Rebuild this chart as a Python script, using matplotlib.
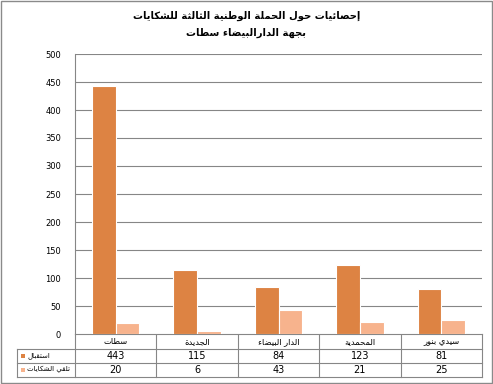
import matplotlib
matplotlib.use("Agg")
import matplotlib.pyplot as plt
from matplotlib.transforms import blended_transform_factory
from matplotlib.patches import Rectangle

plt.rcParams['font.family'] = ['DejaVu Sans']

# ---------------- data ----------------
categories = ["سطات", "الجديدة", "الدار البيضاء", "المحمدية", "سيدي بنور"]
series_names = ["استقبال", "تلقي الشكايات"]
reception = [443, 115, 84, 123, 81]
complaints = [20, 6, 43, 21, 25]
title_lines = ["إحصائيات حول الحملة الوطنية الثالثة للشكايات", "بجهة الدارالبيضاء سطات"]
yticks = [0, 50, 100, 150, 200, 250, 300, 350, 400, 450, 500]

colors = ["#DD8343", "#F7B38D"]

# ---------------- simple Arabic shaping (presentation forms + visual order) ----------------
_DUAL = {'ئ': 0xFE89, 'ب': 0xFE8F, 'ت': 0xFE95, 'ث': 0xFE99, 'ج': 0xFE9D, 'ح': 0xFEA1,
         'خ': 0xFEA5, 'س': 0xFEB1, 'ش': 0xFEB5, 'ص': 0xFEB9, 'ض': 0xFEBD, 'ط': 0xFEC1,
         'ظ': 0xFEC5, 'ع': 0xFEC9, 'غ': 0xFECD, 'ف': 0xFED1, 'ق': 0xFED5, 'ك': 0xFED9,
         'ل': 0xFEDD, 'م': 0xFEE1, 'ن': 0xFEE5, 'ه': 0xFEE9, 'ي': 0xFEF1}
_RIGHT = {'آ': 0xFE81, 'أ': 0xFE83, 'ؤ': 0xFE85, 'إ': 0xFE87, 'ا': 0xFE8D, 'ة': 0xFE93,
          'د': 0xFEA9, 'ذ': 0xFEAB, 'ر': 0xFEAD, 'ز': 0xFEAF, 'و': 0xFEED, 'ى': 0xFEEF}
_NONE = {'ء': 0xFE80}
_LAMALEF = {'آ': 0xFEF5, 'أ': 0xFEF7, 'إ': 0xFEF9, 'ا': 0xFEFB}


def _jtype(c):
    if c in _DUAL:
        return 4
    if c in _RIGHT:
        return 2
    return 0


def shape(text):
    units = []
    i = 0
    while i < len(text):
        c = text[i]
        if c == 'ل' and i + 1 < len(text) and text[i + 1] in _LAMALEF:
            units.append(('LA', _LAMALEF[text[i + 1]]))
            i += 2
        else:
            units.append(('C', c))
            i += 1

    def t(u):
        if u[0] == 'LA':
            return 2
        return _jtype(u[1])

    out = []
    for k, u in enumerate(units):
        tp = t(u)
        prev_j = k > 0 and t(units[k - 1]) == 4 and tp in (2, 4)
        next_j = tp == 4 and k + 1 < len(units) and t(units[k + 1]) in (2, 4)
        if u[0] == 'LA':
            out.append(chr(u[1] + (1 if prev_j else 0)))
            continue
        c = u[1]
        if c in _DUAL:
            base = _DUAL[c]
            off = 3 if (prev_j and next_j) else 1 if prev_j else 2 if next_j else 0
            out.append(chr(base + off))
        elif c in _RIGHT:
            out.append(chr(_RIGHT[c] + (1 if prev_j else 0)))
        elif c in _NONE:
            out.append(chr(_NONE[c]))
        else:
            out.append(c)
    return ''.join(out)[::-1]


# ---------------- figure ----------------
W, H = 493, 384
fig = plt.figure(figsize=(W / 100, H / 100), dpi=100)

L, R, T, B = 75, 482, 54, 334
ax = fig.add_axes([L / W, (H - B) / H, (R - L) / W, (B - T) / H])

x = list(range(len(categories)))
bw = 0.29
ax.bar([v - bw / 2 for v in x], reception, width=bw, color=colors[0],
       edgecolor="white", linewidth=0.8, zorder=3)
ax.bar([v + bw / 2 for v in x], complaints, width=bw, color=colors[1],
       edgecolor="white", linewidth=0.8, zorder=3)

ax.set_xlim(-0.5, len(categories) - 0.5)
ax.set_ylim(0, 500)
ax.set_yticks(yticks)
ax.set_yticklabels([str(v) for v in yticks], fontsize=6)
ax.tick_params(axis='y', length=0, pad=10)
ax.set_xticks([])
ax.grid(axis='y', color="#868686", linewidth=0.8, zorder=0)
for s in ["top", "right", "bottom"]:
    ax.spines[s].set_visible(False)
ax.spines["left"].set_color("#868686")
ax.spines["left"].set_linewidth(0.8)

# title
fig.text(0.5, 1 - 16 / H, shape(title_lines[0]), ha="center", va="center",
         fontsize=7.2, fontweight="bold")
fig.text(0.5, 1 - 33 / H, shape(title_lines[1]), ha="center", va="center",
         fontsize=7.2, fontweight="bold")

# overlay in pixel coordinates for the frames
ov = fig.add_axes([0, 0, 1, 1], zorder=-1)
ov.set_xlim(0, W)
ov.set_ylim(H, 0)
ov.axis("off")
ov.patch.set_alpha(0)

gc = "#868686"
lw = 0.8
rows = [334, 348.7, 362.7, 377]
col_edges = [L + (R - L) * k / len(categories) for k in range(len(categories) + 1)]
leg_left = 17
ov.plot([L, R], [rows[0], rows[0]], color=gc, lw=lw)
for yy in rows[1:]:
    ov.plot([leg_left, R], [yy, yy], color=gc, lw=lw)
for xx in col_edges:
    ov.plot([xx, xx], [rows[0], rows[3]], color=gc, lw=lw)
ov.plot([leg_left, leg_left], [rows[1], rows[3]], color=gc, lw=lw)

# outer border
ov.add_patch(Rectangle((0.5, 0.5), W - 1.5, H - 1.5, fill=False, edgecolor="#8a8a8a", lw=1.0))

# table text
trans = blended_transform_factory(ax.transData, ov.transData)
row_centers = [(rows[k] + rows[k + 1]) / 2 for k in range(3)]
for i, c in enumerate(categories):
    ax.text(i, row_centers[0], shape(c), transform=trans, ha="center", va="center", fontsize=6)
    ax.text(i, row_centers[1], str(reception[i]), transform=trans, ha="center", va="center", fontsize=7)
    ax.text(i, row_centers[2], str(complaints[i]), transform=trans, ha="center", va="center", fontsize=7)

for k, name in enumerate(series_names):
    yc = row_centers[k + 1]
    ov.add_patch(Rectangle((21, yc - 1.8), 3.6, 3.6, facecolor=colors[k], edgecolor="none"))
    ov.text(27, yc, shape(name), ha="left", va="center", fontsize=5)

fig.savefig("out.png", dpi=100)
